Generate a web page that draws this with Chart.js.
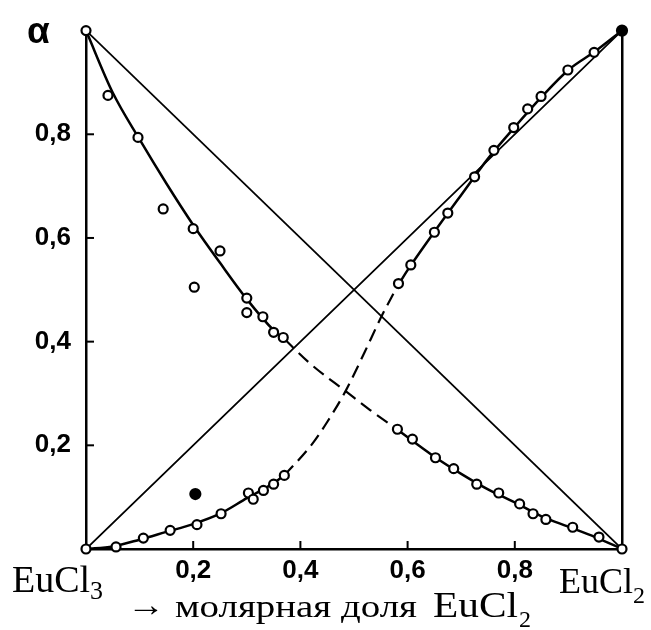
<!DOCTYPE html>
<html>
<head>
<meta charset="utf-8">
<script src="https://cdn.jsdelivr.net/npm/chart.js@4/dist/chart.umd.min.js"></script>
<style>
  html, body { margin: 0; padding: 0; background: #fff; }
  #wrap { width: 651px; height: 630px; position: relative; }
</style>
</head>
<body>
<div id="wrap"><canvas id="chart"></canvas></div>
<script>
// tick labels on both axes
const xTickValues = [0.2, 0.4, 0.6, 0.8];
const yTickValues = [0.2, 0.4, 0.6, 0.8];

// straight reference diagonals
const diagDown = [[0, 1], [1, 0]];
const diagUp = [[0, 0], [1, 1]];

// fitted curve for the falling branch (solid / dashed / solid)
const fallSolidA = [[0, 1], [0.05, 0.88], [0.1, 0.79], [0.15, 0.705], [0.2, 0.625], [0.25, 0.552], [0.3, 0.482], [0.35, 0.422], [0.37, 0.405]];
const fallDashed = [[0.37, 0.405], [0.42, 0.356], [0.485, 0.304], [0.53, 0.268], [0.58, 0.231]];
const fallSolidB = [[0.58, 0.231], [0.65, 0.178], [0.7, 0.145], [0.75, 0.115], [0.8, 0.09], [0.85, 0.063], [0.9, 0.043], [0.95, 0.023], [1, 0]];

// fitted curve for the rising branch (solid / dashed / solid)
const riseSolidA = [[0, 0], [0.05, 0.005], [0.1, 0.018], [0.15, 0.033], [0.2, 0.048], [0.25, 0.068], [0.3, 0.098], [0.35, 0.127], [0.37, 0.142]];
const riseDashed = [[0.37, 0.142], [0.42, 0.2], [0.45, 0.245], [0.485, 0.306], [0.52, 0.38], [0.55, 0.446], [0.58, 0.505]];
const riseSolidB = [[0.58, 0.505], [0.6, 0.538], [0.65, 0.612], [0.7, 0.683], [0.75, 0.753], [0.8, 0.814], [0.85, 0.872], [0.9, 0.924], [0.95, 0.96], [1, 1]];

// measured points (open circles)
const fallPoints = [[0, 1], [0.041, 0.875], [0.097, 0.794], [0.144, 0.656], [0.2, 0.618], [0.25, 0.575], [0.202, 0.505],
  [0.3, 0.484], [0.3, 0.456], [0.33, 0.448], [0.35, 0.418], [0.368, 0.408],
  [0.581, 0.231], [0.609, 0.212], [0.652, 0.176], [0.686, 0.155], [0.729, 0.125], [0.77, 0.108], [0.809, 0.087],
  [0.834, 0.068], [0.858, 0.057], [0.908, 0.042], [0.957, 0.023], [1, 0]];
const risePoints = [[0, 0], [0.056, 0.004], [0.107, 0.021], [0.157, 0.036], [0.207, 0.047], [0.252, 0.068],
  [0.303, 0.108], [0.312, 0.096], [0.331, 0.113], [0.35, 0.125], [0.37, 0.142],
  [0.583, 0.512], [0.606, 0.548], [0.65, 0.611], [0.675, 0.648], [0.725, 0.718], [0.761, 0.769], [0.798, 0.813],
  [0.824, 0.849], [0.849, 0.873], [0.899, 0.924], [0.948, 0.958]];
// filled dots
const filledPoints = [[1, 1], [0.204, 0.106]];

const xy = arr => arr.map(p => ({ x: p[0], y: p[1] }));

const lineSet = (data, width, dash) => ({
  data: xy(data),
  showLine: true,
  borderColor: "#000",
  borderWidth: width,
  borderDash: dash || [],
  pointRadius: 0,
  cubicInterpolationMode: "monotone",
  fill: false,
});

const pointSet = (data, filled) => ({
  data: xy(data),
  showLine: false,
  pointRadius: filled ? 5 : 4.5,
  pointBorderWidth: 2.2,
  pointBorderColor: "#000",
  pointBackgroundColor: filled ? "#000" : "#fff",
  clip: false,
});

// text squeezed/stretched horizontally to the width seen in the scan
function fitText(ctx, text, x, y, font, width) {
  ctx.font = font;
  const w = ctx.measureText(text).width;
  ctx.save();
  ctx.translate(x, y);
  ctx.scale(width / w, 1);
  ctx.fillText(text, 0, 0);
  ctx.restore();
}

// inward tick marks, the α title and the compound labels
const decorPlugin = {
  id: "decor",
  afterDraw(chart) {
    const ctx = chart.ctx;
    const xs = chart.scales.x;
    const ys = chart.scales.y;
    const area = chart.chartArea;
    ctx.save();
    ctx.strokeStyle = "#000";
    ctx.lineWidth = 2;
    xTickValues.forEach(v => {
      const px = xs.getPixelForValue(v);
      ctx.beginPath();
      ctx.moveTo(px, area.bottom);
      ctx.lineTo(px, area.bottom - 8);
      ctx.stroke();
    });
    yTickValues.forEach(v => {
      const py = ys.getPixelForValue(v);
      ctx.beginPath();
      ctx.moveTo(area.left, py);
      ctx.lineTo(area.left + 8, py);
      ctx.stroke();
    });

    ctx.fillStyle = "#000";
    ctx.textBaseline = "alphabetic";
    ctx.textAlign = "left";
    ctx.font = "bold 37px 'Liberation Sans'";
    ctx.fillText("α", 27, 43);

    // EuCl3 under the origin
    const serif = "'Liberation Serif'";
    ctx.font = "38px " + serif;
    ctx.fillText("EuCl", 12, 592);
    let w = ctx.measureText("EuCl").width;
    ctx.font = "26px " + serif;
    ctx.fillText("3", 12 + w, 599);

    // EuCl2 at the right end
    ctx.font = "36px " + serif;
    ctx.fillText("EuCl", 559, 593);
    w = ctx.measureText("EuCl").width;
    ctx.font = "24px " + serif;
    ctx.fillText("2", 559 + w, 603);

    // axis caption
    fitText(ctx, "→", 127, 616, "34px " + serif, 38);
    fitText(ctx, "молярная доля", 175, 617, "32px " + serif, 242);
    fitText(ctx, "EuCl", 433, 617, "36px " + serif, 85);
    ctx.font = "24px " + serif;
    ctx.fillText("2", 519, 627);
    ctx.restore();
  },
};

const tickFont = { family: "'Liberation Sans'", size: 26, weight: "bold" };
const fmt = v => v.toFixed(1).replace(".", ",");

new Chart(document.getElementById("chart"), {
  type: "scatter",
  data: {
    datasets: [
      pointSet(filledPoints, true),
      pointSet(fallPoints, false),
      pointSet(risePoints, false),
      lineSet(fallSolidA, 2.5),
      lineSet(fallDashed, 2.2, [13, 7]),
      lineSet(fallSolidB, 2.5),
      lineSet(riseSolidA, 2.5),
      lineSet(riseDashed, 2.2, [13, 7]),
      lineSet(riseSolidB, 2.5),
      lineSet(diagDown, 1.8),
      lineSet(diagUp, 1.8),
    ],
  },
  options: {
    responsive: true,
    maintainAspectRatio: false,
    animation: false,
    layout: { padding: { top: 20, right: 29, left: 0, bottom: 0 } },
    plugins: {
      legend: { display: false },
      tooltip: { enabled: false },
    },
    scales: {
      x: {
        type: "linear",
        min: 0,
        max: 1,
        afterBuildTicks: s => { s.ticks = xTickValues.map(v => ({ value: v })); },
        afterFit: s => { s.height = 81; },
        grid: { display: false, drawTicks: false },
        border: { display: true, color: "#000", width: 2.5 },
        ticks: { color: "#000", font: tickFont, padding: 6, callback: fmt, maxRotation: 0 },
      },
      y: {
        type: "linear",
        min: 0,
        max: 1,
        afterBuildTicks: s => { s.ticks = yTickValues.map(v => ({ value: v })); },
        afterFit: s => { s.width = 86; },
        grid: { display: false, drawTicks: false },
        border: { display: true, color: "#000", width: 2.5 },
        ticks: { color: "#000", font: tickFont, padding: 15, callback: fmt },
      },
      yRight: {
        type: "linear",
        position: "right",
        min: 0,
        max: 1,
        afterFit: s => { s.width = 0; },
        grid: { display: false, drawTicks: false },
        border: { display: true, color: "#000", width: 2.5 },
        ticks: { display: false },
      },
    },
  },
  plugins: [decorPlugin],
});
</script>
</body>
</html>
